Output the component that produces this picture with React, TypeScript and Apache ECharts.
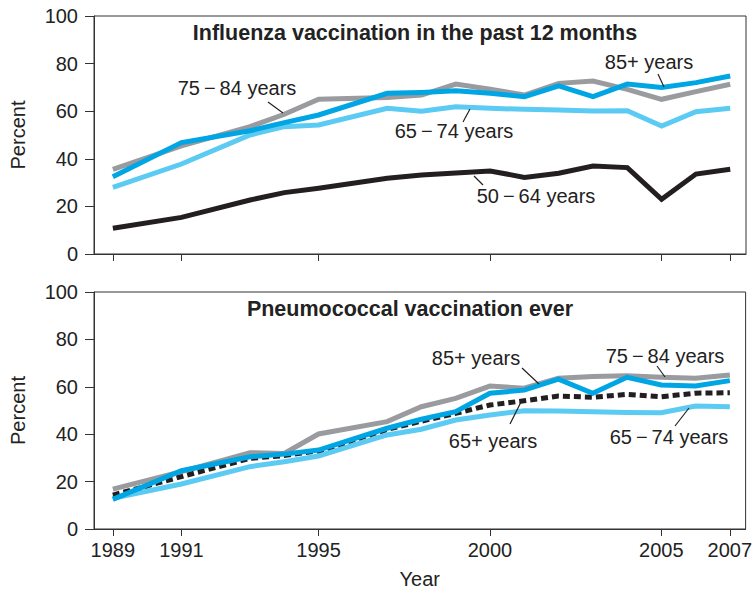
import React, { useEffect, useRef } from "react";
import * as echarts from "echarts";

const years = [1989, 1991, 1993, 1994, 1995, 1997, 1998, 1999, 2000, 2001, 2002, 2003, 2004, 2005, 2006, 2007];
const tickYears = [1989, 1991, 1995, 2000, 2005, 2007];

// Influenza vaccination in the past 12 months
const flu5064 = [10.8, 15.4, 22.7, 25.8, 27.6, 31.8, 33.2, 34.0, 34.9, 32.2, 33.9, 37.0, 36.3, 23.0, 33.6, 35.6];
const flu6574 = [28.0, 37.8, 50.0, 53.5, 54.2, 61.2, 60.0, 61.9, 61.2, 60.8, 60.5, 60.1, 60.2, 53.8, 59.8, 61.2];
const flu7584 = [35.6, 45.4, 53.5, 58.7, 65.0, 65.8, 66.8, 71.4, 69.2, 66.8, 71.7, 72.7, 69.2, 65.0, 68.2, 71.3];
const flu85 = [32.5, 46.8, 51.8, 55.2, 58.4, 67.5, 67.9, 68.6, 67.5, 66.1, 70.6, 66.1, 71.4, 70.0, 72.0, 74.8];

// Pneumococcal vaccination ever
const pn65 = [14.3, 22.1, 29.8, 31.0, 33.0, 42.0, 45.5, 48.8, 52.3, 54.1, 56.1, 55.6, 56.8, 55.8, 57.3, 57.5];
const pn6574 = [13.0, 19.0, 26.3, 28.4, 30.8, 39.7, 42.1, 46.0, 48.1, 49.9, 49.8, 49.5, 49.2, 49.1, 51.9, 51.6];
const pn7584 = [16.8, 24.2, 32.2, 31.9, 40.1, 45.3, 51.6, 55.1, 60.3, 59.4, 63.6, 64.3, 64.7, 64.0, 63.6, 65.0];
const pn85 = [12.5, 24.6, 30.5, 31.6, 33.3, 42.5, 46.3, 49.5, 57.3, 58.6, 63.2, 57.3, 64.0, 60.8, 60.3, 62.6];

const C_BLACK = "#231f20";
const C_GRAY = "#9a9b9f";
const C_BLUE = "#00a5e3";
const C_LIGHT = "#5ccbf3";
const FONT = "Liberation Sans, Arial, sans-serif";

const pairs = (vals: number[]) => years.map((y, i) => [y, vals[i]]);

export default function App() {
  const ref = useRef<HTMLDivElement>(null);
  useEffect(() => {
    if (!ref.current) return;
    const chart = echarts.init(ref.current, undefined, { renderer: "svg" });

    const mkX = (idx: number, showLabels: boolean) => ({
      type: "value",
      gridIndex: idx,
      min: 1988.45,
      max: 2007.46,
      axisLine: { show: true, lineStyle: { color: "#333", width: 1 } },
      axisTick: {
        show: true,
        length: 7,
        lineStyle: { color: "#333", width: 1 },
        customValues: tickYears,
      },
      axisLabel: {
        show: showLabels,
        customValues: tickYears,
        color: "#222",
        fontSize: 20,
        fontFamily: FONT,
        margin: 11,
        formatter: (v: number) => String(v),
      },
      splitLine: { show: false },
      name: showLabels ? "Year" : "",
      nameLocation: "middle",
      nameGap: 40,
      nameTextStyle: { color: "#222", fontSize: 20, fontFamily: FONT },
    });

    const mkY = (idx: number) => ({
      type: "value",
      gridIndex: idx,
      min: 0,
      max: 100,
      interval: 20,
      axisLine: { show: true, lineStyle: { color: "#333", width: 1 } },
      axisTick: { show: true, length: 9, lineStyle: { color: "#333", width: 1 } },
      axisLabel: {
        color: "#222",
        fontSize: 20,
        fontFamily: FONT,
        margin: 16,
      },
      splitLine: { show: false },
      name: "Percent",
      nameLocation: "middle",
      nameGap: 66,
      nameTextStyle: { color: "#222", fontSize: 20, fontFamily: FONT },
    });

    const line = (name: string, xi: number, vals: number[], color: string, dashed = false, z = 2) => ({
      type: "line",
      name,
      xAxisIndex: xi,
      yAxisIndex: xi,
      data: pairs(vals),
      showSymbol: false,
      symbol: "none",
      z,
      lineStyle: { color, width: 5, type: dashed ? [7, 4] : "solid", cap: "butt", join: "miter" },
    });

    const txt = (text: string, x: number, y: number, bold = false) => ({
      type: "text",
      x,
      y,
      z: 100,
      style: {
        text,
        fill: "#222",
        fontSize: bold ? 21.5 : 20,
        fontWeight: bold ? "bold" : "normal",
        fontFamily: FONT,
        textAlign: "center",
        textVerticalAlign: "middle",
      },
    });
    const lead = (x1: number, y1: number, x2: number, y2: number) => ({
      type: "line",
      z: 100,
      shape: { x1, y1, x2, y2 },
      style: { stroke: "#222", lineWidth: 1.2 },
    });

    const d7584 = "75\u2009\u2212\u200984 years";
    const d6574 = "65\u2009\u2212\u200974 years";
    const d5064 = "50\u2009\u2212\u200964 years";

    chart.setOption({
      animation: false,
      grid: [
        { left: 90, top: 16, width: 656, height: 238, show: true, borderColor: "#333", borderWidth: 1, backgroundColor: "transparent" },
        { left: 90, top: 292, width: 656, height: 237, show: true, borderColor: "#333", borderWidth: 1, backgroundColor: "transparent" },
      ],
      xAxis: [mkX(0, false), mkX(1, true)],
      yAxis: [mkY(0), mkY(1)],
      series: [
        line("65−74 years", 0, flu6574, C_LIGHT, false, 2),
        line("75−84 years", 0, flu7584, C_GRAY, false, 3),
        line("85+ years", 0, flu85, C_BLUE, false, 4),
        line("50−64 years", 0, flu5064, C_BLACK, false, 5),
        line("65−74 years", 1, pn6574, C_LIGHT, false, 2),
        line("75−84 years", 1, pn7584, C_GRAY, false, 3),
        line("65+ years", 1, pn65, C_BLACK, true, 4),
        line("85+ years", 1, pn85, C_BLUE, false, 5),
      ],
      graphic: [
        txt("Influenza vaccination in the past 12 months", 415, 33, true),
        txt("Pneumococcal vaccination ever", 410, 309, true),
        txt(d7584, 237, 88),
        lead(268, 102, 283, 113),
        txt("85+ years", 649, 62),
        lead(658, 74, 664, 87),
        txt(d6574, 454, 131),
        lead(470, 109, 463, 122),
        txt(d5064, 536, 196),
        lead(474, 176, 483, 185),
        txt("85+ years", 476, 358),
        lead(522, 368, 539, 384),
        txt(d7584, 665, 356),
        lead(657, 366, 665, 377),
        txt("65+ years", 493, 441),
        lead(521, 402, 510, 424),
        txt(d6574, 669, 437),
        lead(689, 408, 675, 426),
      ],
    });
    return () => chart.dispose();
  }, []);
  return <div ref={ref} style={{ position: "absolute", left: 0, top: 0, width: 755, height: 590 }} />;
}
